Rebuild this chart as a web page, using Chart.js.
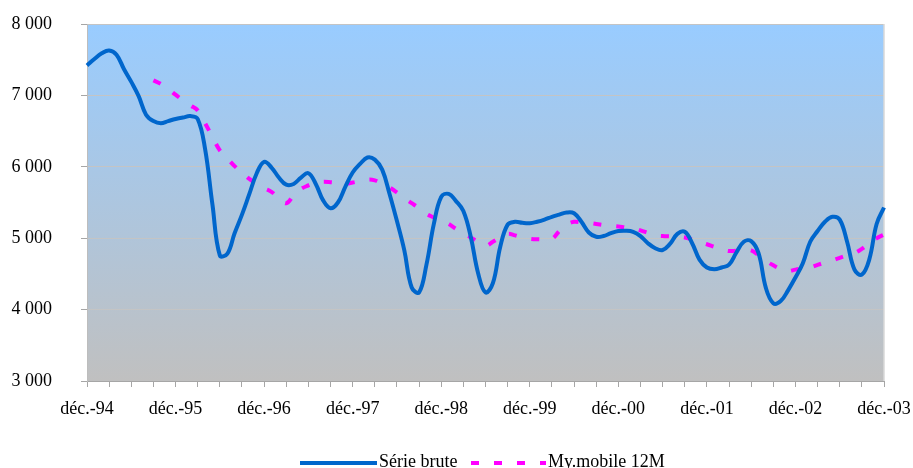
<!DOCTYPE html>
<html>
<head>
<meta charset="utf-8">
<script src="https://cdn.jsdelivr.net/npm/chart.js@4/dist/chart.umd.min.js"></script>
<style>
  html, body { margin: 0; padding: 0; background: #ffffff; }
  #wrap { width: 913px; height: 468px; }
</style>
</head>
<body>
<div id="wrap"><canvas id="c" width="913" height="468"></canvas></div>
<script>
// Monthly series, déc.-94 through déc.-03
const monthNames = ['janv.', 'févr.', 'mars', 'avr.', 'mai', 'juin', 'juil.', 'août', 'sept.', 'oct.', 'nov.', 'déc.'];
const years = ['94', '95', '96', '97', '98', '99', '00', '01', '02', '03'];
const yearTicks = ['déc.-94', 'déc.-95', 'déc.-96', 'déc.-97', 'déc.-98', 'déc.-99', 'déc.-00', 'déc.-01', 'déc.-02', 'déc.-03'];

const serieBrute = [
  7420, 7510, 7590, 7630, 7570, 7370, 7190, 6990, 6730, 6640, 6610, 6640, 6670,
  6690, 6710, 6670, 6250, 5470, 4760, 4780, 5070, 5330, 5620, 5910, 6070,
  5990, 5850, 5750, 5760, 5850, 5910, 5760, 5530, 5420, 5500, 5720, 5920,
  6040, 6130, 6100, 5960, 5620, 5240, 4830, 4310, 4240, 4630, 5200, 5580,
  5620, 5520, 5380, 5020, 4510, 4240, 4370, 4880, 5190, 5230, 5215, 5210,
  5230, 5260, 5300, 5330, 5360, 5350, 5230, 5080, 5020, 5030, 5070, 5100,
  5105, 5090, 5030, 4930, 4860, 4835, 4920, 5060, 5090, 4930, 4700, 4590,
  4565, 4590, 4630, 4800, 4950, 4960, 4790, 4300, 4090, 4120, 4270, 4450,
  4650, 4950, 5100, 5230, 5300, 5260, 4950, 4560, 4490, 4700, 5200, 5430
];

const moyenneMobile = [
  null, null, null, null, null, null, null, null, null, 7210, 7160, 7090, 7010,
  6930, 6860, 6790, 6610, 6420, 6230, 6120, 6010, 5920, 5830, 5760, 5700,
  5650, 5560, 5490, 5600, 5690, 5740, 5780, 5790, 5785, 5775, 5765, 5780,
  5800, 5820, 5810, 5760, 5710, 5640, 5560, 5490, 5420, 5340, 5290, 5250,
  5200, 5130, 5070, 5010, 4950, 4895, 4950, 5010, 5060, 5040, 5010, 4992,
  4985, 4985, 4990, 5100, 5190, 5230, 5220, 5215, 5200, 5185, 5175, 5165,
  5150, 5140, 5110, 5075, 5040, 5030, 5025, 5020, 5010, 4980, 4945, 4915,
  4880, 4845, 4820, 4825, 4832, 4830, 4760, 4680, 4620, 4570, 4540, 4560,
  4575, 4590, 4625, 4660, 4690, 4725, 4760, 4790, 4850, 4930, 5000, 5050
];

// category labels: one per month starting déc.-94
const categories = ['déc.-94'];
for (let y = 1; y < years.length; y++) {
  for (let m = 0; m < 12; m++) categories.push(monthNames[m] + '-' + years[y]);
}

const FONT = "'Liberation Serif', 'Times New Roman', serif";

// plot area fill: light blue at the top fading to grey at the bottom
const plotBackground = {
  id: 'plotBackground',
  beforeDraw(chart) {
    const { ctx, chartArea: a } = chart;
    const g = ctx.createLinearGradient(0, a.top, 0, a.bottom);
    g.addColorStop(0, '#99CCFF');
    g.addColorStop(1, '#C0C0C0');
    ctx.save();
    ctx.fillStyle = g;
    ctx.fillRect(a.left, a.top, a.right - a.left, a.bottom - a.top);
    ctx.restore();
  },
  beforeDatasetsDraw(chart) {
    const { ctx, chartArea: a } = chart;
    ctx.save();
    ctx.strokeStyle = '#D9D9D9';
    ctx.lineWidth = 1.5;
    ctx.beginPath();
    ctx.moveTo(a.right, a.top);
    ctx.lineTo(a.right, a.bottom);
    ctx.stroke();
    ctx.restore();
  }
};

// legend row under the chart
const bottomLegend = {
  id: 'bottomLegend',
  afterDraw(chart) {
    const { ctx } = chart;
    const ds = chart.data.datasets;
    const y = 463;
    ctx.save();
    ctx.lineCap = 'butt';
    ctx.font = '18px ' + FONT;
    ctx.fillStyle = '#000000';
    ctx.textBaseline = 'alphabetic';

    ctx.strokeStyle = ds[0].borderColor;
    ctx.lineWidth = ds[0].borderWidth;
    ctx.setLineDash([]);
    ctx.beginPath(); ctx.moveTo(300, y); ctx.lineTo(377, y); ctx.stroke();
    ctx.fillText(ds[0].label, 379, 467);

    ctx.strokeStyle = ds[1].borderColor;
    ctx.lineWidth = ds[1].borderWidth;
    ctx.setLineDash(ds[1].borderDash);
    ctx.beginPath(); ctx.moveTo(471, y); ctx.lineTo(546, y); ctx.stroke();
    ctx.setLineDash([]);
    ctx.fillText(ds[1].label, 548, 467);
    ctx.restore();
  }
};

new Chart(document.getElementById('c'), {
  type: 'line',
  data: {
    labels: categories,
    datasets: [
      {
        label: 'Série brute',
        data: serieBrute,
        borderColor: '#0066CC',
        borderWidth: 4,
        pointRadius: 0,
        tension: 0.4,
        fill: false
      },
      {
        label: 'My.mobile 12M',
        data: moyenneMobile,
        borderColor: '#FF00FF',
        borderWidth: 4,
        borderDash: [8, 15],
        pointRadius: 0,
        tension: 0.4,
        fill: false
      }
    ]
  },
  options: {
    responsive: false,
    animation: false,
    layout: { padding: { left: 0, right: 29, top: 24, bottom: 0 } },
    plugins: {
      legend: { display: false },
      tooltip: { enabled: false }
    },
    scales: {
      x: {
        type: 'category',
        offset: false,
        afterFit(scale) {
          scale.height = 87;
          scale.paddingLeft = 0;
          scale.paddingRight = 0;
        },
        grid: {
          drawOnChartArea: false,
          drawTicks: true,
          tickLength: 6,
          tickColor: (c) => (c.index % 3 === 0 ? '#A6A6A6' : 'rgba(0,0,0,0)')
        },
        border: { display: true, color: '#A6A6A6', width: 1 },
        ticks: {
          autoSkip: false,
          maxRotation: 0,
          minRotation: 0,
          padding: 11,
          color: '#000000',
          font: { family: FONT, size: 18 },
          callback: (v, i) => (yearTicks.includes(categories[i]) ? categories[i] : '')
        }
      },
      y: {
        min: 3000,
        max: 8000,
        afterFit(scale) {
          scale.width = 87;
          scale.paddingTop = 0;
          scale.paddingBottom = 0;
        },
        grid: {
          color: '#C4C4C4',
          lineWidth: 1,
          tickLength: 6,
          tickColor: '#A6A6A6'
        },
        border: { display: true, color: '#BDBDBD', width: 1 },
        ticks: {
          stepSize: 1000,
          padding: 29,
          color: '#000000',
          font: { family: FONT, size: 18 },
          callback: (v) => String(v).replace(/\B(?=(\d{3})+(?!\d))/g, ' ')
        }
      }
    }
  },
  plugins: [plotBackground, bottomLegend]
});
</script>
</body>
</html>
